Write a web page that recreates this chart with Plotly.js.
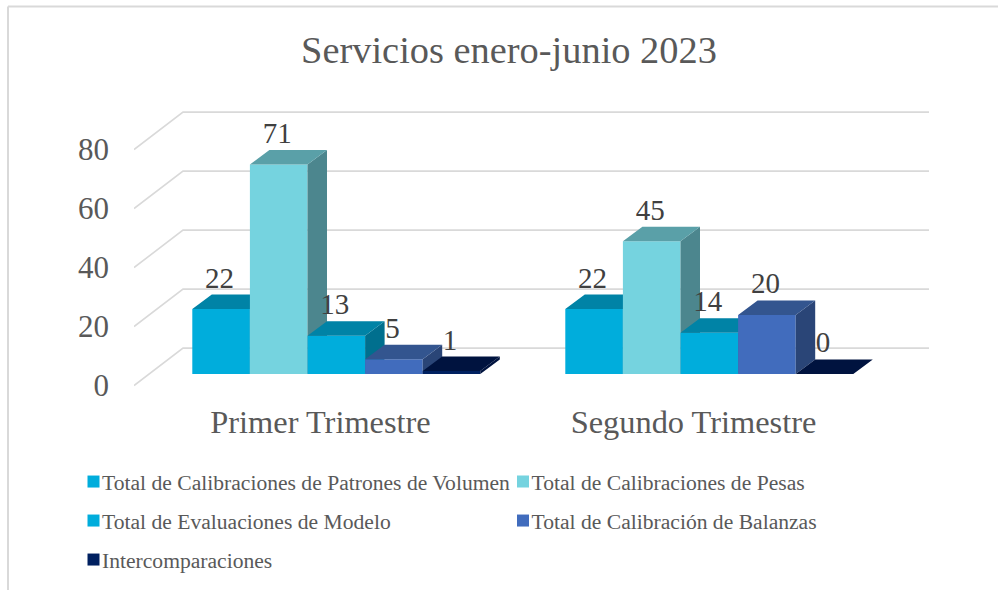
<!DOCTYPE html>
<html>
<head>
<meta charset="utf-8">
<script src="https://cdn.plot.ly/plotly-3.0.1.min.js"></script>
<style>html,body{margin:0;padding:0;background:#fff}#chart{width:998px;height:590px}</style>
</head>
<body>
<div id="chart"></div>
<script>
// ---- data ----
const categories = ['Primer Trimestre', 'Segundo Trimestre'];
const seriesNames = [
  'Total de Calibraciones de Patrones de Volumen',
  'Total de Calibraciones de Pesas',
  'Total de Evaluaciones de Modelo',
  'Total de Calibración de Balanzas',
  'Intercomparaciones'
];
const volumenValues = [22, 22];
const pesasValues = [71, 45];
const modeloValues = [13, 14];
const balanzasValues = [5, 20];
const interValues = [1, 0];
const yTicks = [0, 20, 40, 60, 80];
const titleText = 'Servicios enero-junio 2023';

// ---- styles ----
const frontColors = ['#00ADDC', '#75D3DF', '#00ADDC', '#416CBD', '#002060'];
const topColors   = ['#0083A6', '#5AA0A8', '#0083A6', '#33558F', '#00133F'];
const sideColors  = ['#006F8E', '#4C868E', '#006F8E', '#2A4577', '#00133F'];
const allValues = [volumenValues, pesasValues, modeloValues, balanzasValues, interValues];
const serif = '"Liberation Serif", "Times New Roman", serif';

// ---- geometry of the pseudo-3D view, in pixels per axis unit ----
const plotL = 134, plotR = 929, plotT = 100, plotB = 390;
const pxPerCat = 373, pxPerUnit = 2.95, zeroPx = 385.6;
const xRange = [-0.5, -0.5 + (plotR - plotL) / pxPerCat];
const yRange = [(zeroPx - plotB) / pxPerUnit, (zeroPx - plotT) / pxPerUnit];
const wallDx = 49 / pxPerCat, wallDy = 37.5 / pxPerUnit;   // floor depth
const barDx = 19.5 / pxPerCat, barDy = 14.5 / pxPerUnit;   // bar depth
const barW = 57.6 / pxPerCat;
const shiftX = 15.8 / pxPerCat, baseY = (zeroPx - 374) / pxPerUnit; // bars stand inside the floor
const labelDy = 28.8 / pxPerUnit, labelDx = -1.5 / pxPerCat;

const traces = [];

// walls: gridlines running from the front edge to the back wall
const gx = [], gy = [];
yTicks.forEach(v => {
  gx.push(-0.5, -0.5 + wallDx, 1.5 + wallDx, null);
  gy.push(v, v + wallDy, v + wallDy, null);
});
traces.push({type: 'scatter', mode: 'lines', x: gx, y: gy, xaxis: 'x', yaxis: 'y',
  line: {color: '#D9D9D9', width: 1.6}, hoverinfo: 'skip', showlegend: false});

const labelX = [], labelY = [], labelT = [];

// each series lives on its own overlaid axis so later series paint over earlier ones
allValues.forEach((vals, i) => {
  const ya = 'y' + (i + 2);
  const off = (i - 2.5) * barW + shiftX;
  traces.push({type: 'bar', name: seriesNames[i], x: categories.map((c, k) => k), y: vals,
    base: baseY, width: barW, offset: off, xaxis: 'x', yaxis: ya,
    marker: {color: frontColors[i], line: {width: 0}},
    legend: i === 0 ? 'legend' : 'legend' + (i + 1), showlegend: true, hoverinfo: 'name+y'});
  const tx = [], ty = [], sx = [], sy = [];
  vals.forEach((v, k) => {
    const x0 = k + off, x1 = x0 + barW, t = v + baseY;
    tx.push(x0, x1, x1 + barDx, x0 + barDx, x0, null);
    ty.push(t, t, t + barDy, t + barDy, t, null);
    sx.push(x1, x1, x1 + barDx, x1 + barDx, x1, null);
    sy.push(baseY, t, t + barDy, baseY + barDy, baseY, null);
    labelX.push(x0 + barW / 2 + labelDx);
    labelY.push(t + labelDy);
    labelT.push(String(v));
  });
  [[sx, sy, sideColors[i]], [tx, ty, topColors[i]]].forEach(f => {
    traces.push({type: 'scatter', mode: 'lines', x: f[0], y: f[1], xaxis: 'x', yaxis: ya,
      fill: 'toself', fillcolor: f[2], line: {width: 0, color: f[2]},
      hoverinfo: 'skip', showlegend: false});
  });
});

// data labels, on top of all the bars
traces.push({type: 'scatter', mode: 'text', x: labelX, y: labelY, text: labelT, xaxis: 'x', yaxis: 'y6',
  textposition: 'middle center', textfont: {family: serif, size: 29, color: '#404040'},
  hoverinfo: 'skip', showlegend: false});

// legends: one per entry, so that the two-column grid can be placed freely
const rowPx = [482, 482, 521, 521, 560];
const colPx = [102, 531.5, 102, 531.5, 102];
function legendAt(i) {
  return {
    x: (colPx[i] - 40 - plotL) / (plotR - plotL), xanchor: 'left',
    y: (plotB - rowPx[i]) / (plotB - plotT), yanchor: 'middle',
    bgcolor: 'rgba(0,0,0,0)', borderwidth: 0,
    font: {family: serif, size: 21.6, color: '#595959'}
  };
}

const layout = {
  width: 998, height: 590,
  margin: {l: plotL, r: 998 - plotR, t: plotT, b: 590 - plotB, pad: 0, autoexpand: false},
  paper_bgcolor: '#FFFFFF', plot_bgcolor: 'rgba(0,0,0,0)',
  barmode: 'overlay',
  title: {text: titleText, font: {family: serif, size: 38.4, color: '#595959'},
    x: 0.51, xanchor: 'center', xref: 'container', y: 1 - 50 / 590, yanchor: 'middle', yref: 'container'},
  xaxis: {type: 'linear', range: xRange, tickmode: 'array', tickvals: categories.map((c, k) => k),
    ticktext: categories, showgrid: false, zeroline: false, showline: false, ticks: '',
    ticklabelstandoff: 10, tickfont: {family: serif, size: 32.4, color: '#595959'}},
  yaxis: {range: yRange, tickmode: 'array', tickvals: yTicks, ticktext: yTicks.map(String),
    showgrid: false, zeroline: false, showline: false, ticks: '',
    ticklabelstandoff: 24, tickfont: {family: serif, size: 31, color: '#595959'}},
  legend: legendAt(0),
  shapes: [
    {type: 'line', xref: 'paper', yref: 'paper',
      x0: (8 - plotL) / (plotR - plotL), x1: (998 - plotL) / (plotR - plotL),
      y0: (plotB - 6.5) / (plotB - plotT), y1: (plotB - 6.5) / (plotB - plotT),
      line: {color: '#D9D9D9', width: 2}, layer: 'below'},
    {type: 'line', xref: 'paper', yref: 'paper',
      x0: (8 - plotL) / (plotR - plotL), x1: (8 - plotL) / (plotR - plotL),
      y0: (plotB - 6.5) / (plotB - plotT), y1: (plotB - 590) / (plotB - plotT),
      line: {color: '#D9D9D9', width: 2}, layer: 'below'}
  ],
  showlegend: true
};
for (let i = 1; i < 5; i++) layout['legend' + (i + 1)] = legendAt(i);
for (let i = 2; i <= 6; i++) {
  layout['yaxis' + i] = {overlaying: 'y', range: yRange, visible: false, anchor: 'x', showgrid: false, zeroline: false};
}

Plotly.newPlot('chart', traces, layout, {displayModeBar: false, responsive: false}).then(() => {
  // pull each swatch up next to its text
  document.querySelectorAll('.legendsymbols').forEach(el => el.setAttribute('transform', 'translate(11.5,0)'));
});
</script>
</body>
</html>
